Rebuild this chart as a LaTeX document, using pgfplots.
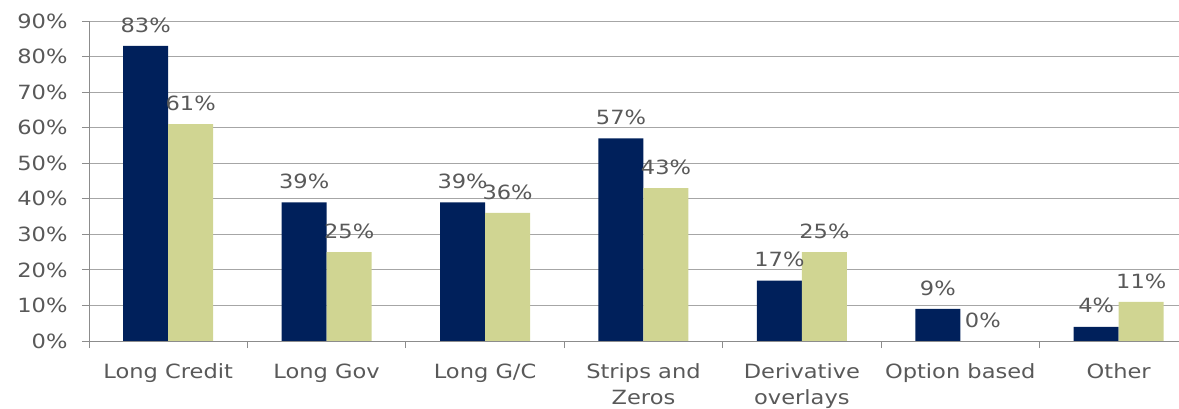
\documentclass[border=0pt]{standalone}
\usepackage{fontspec}
\setmainfont[FakeStretch=1.15]{DejaVu Sans}
\usepackage{pgfplots}
\pgfplotsset{compat=1.18}
\definecolor{navybar}{HTML}{00205B}
\definecolor{sagebar}{HTML}{D0D592}
\definecolor{txtgray}{HTML}{595959}
\definecolor{gridgray}{HTML}{A6A6A6}
\definecolor{axisgray}{HTML}{8C8C8C}
\begin{document}
\begin{tikzpicture}
\useasboundingbox (0,0) rectangle (1179bp,409bp);
\begin{axis}[
  at={(89bp,68bp)}, anchor=south west,
  scale only axis, width=1109bp, height=320bp,
  xmin=-0.5, xmax=6.5, ymin=0, ymax=90,
  axis x line*=bottom, axis y line*=left,
  axis line style={axisgray, line width=0.9bp},
  ybar=0pt, bar width=45bp,
  font=\fontsize{19.6bp}{26bp}\selectfont,
  /pgf/number format/assume math mode=true,
  ytick={0,10,...,90},
  yticklabel={\pgfmathprintnumber{\tick}\%},
  yticklabel style={text=txtgray, xshift=-11bp},
  ymajorgrids, grid style={gridgray, line width=0.9bp},
  tick align=outside, major tick length=7bp,
  tick style={axisgray, line width=0.9bp},
  xtick={-0.5,0.5,...,6.5}, xticklabels={},
  extra x ticks={0,1,2,3,4,5,6},
  extra x tick labels={Long Credit, Long Gov, Long G/C, Strips and\\Zeros, Derivative\\overlays, Option based, Other},
  extra x tick style={major tick length=0pt, grid=none,
    xticklabel style={align=center, text=txtgray, yshift=-19bp}},
  nodes near coords={\pgfmathprintnumber{\pgfplotspointmeta}\%},
  every node near coord/.append style={text=txtgray, yshift=10bp},
]
\addplot[fill=navybar, draw=none] coordinates {
  (0,83) (1,39) (2,39) (3,57) (4,17) (5,9) (6,4)};
\addplot[fill=sagebar, draw=none] coordinates {
  (0,61) (1,25) (2,36) (3,43) (4,25) (5,0) (6,11)};
\end{axis}
\end{tikzpicture}
\end{document}
